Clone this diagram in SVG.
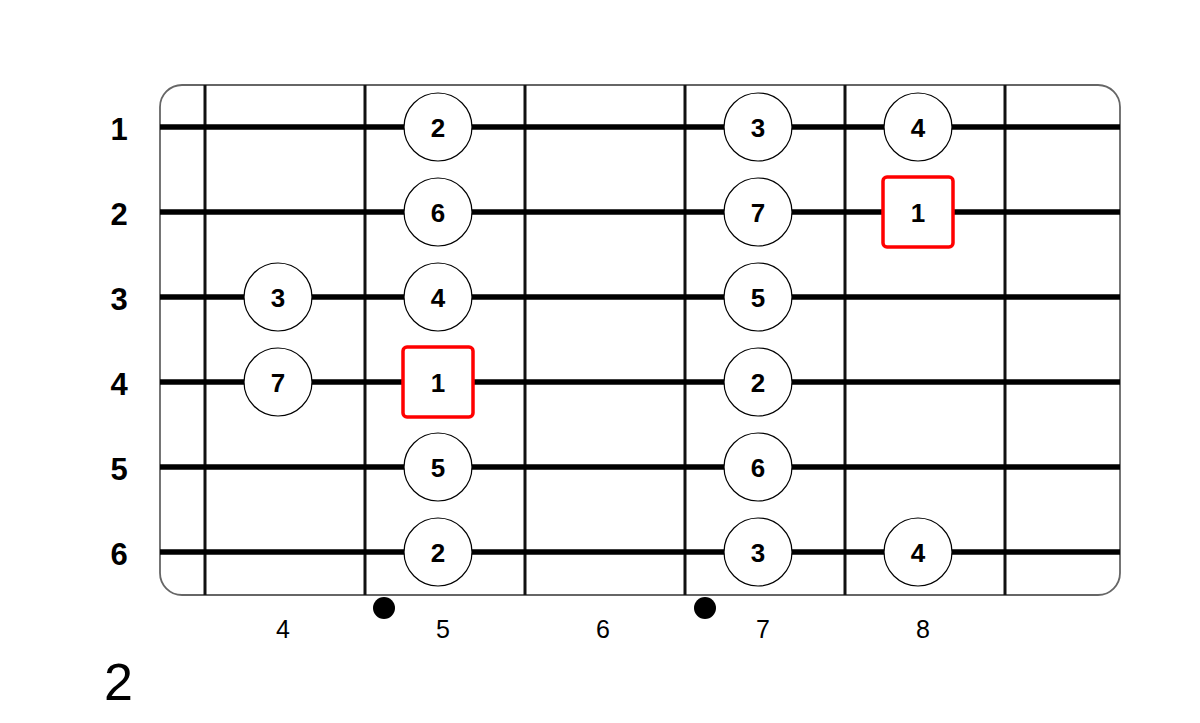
<svg xmlns="http://www.w3.org/2000/svg" width="1200" height="723" viewBox="0 0 1200 723">
<style>
.fret{stroke:#111;stroke-width:3}
.str{stroke:#000;stroke-width:5.5}
.note circle{fill:#fff;stroke:#000;stroke-width:1.2}
.root rect{fill:#fff;stroke:#f00;stroke-width:3.5}
.nt{font-family:"Liberation Sans",Arial,sans-serif;font-weight:bold;font-size:26px;text-anchor:middle}
.sl{font-family:"Liberation Sans",Arial,sans-serif;font-weight:bold;font-size:31px;text-anchor:middle}
.fl{font-family:"Liberation Sans",Arial,sans-serif;font-size:25px;text-anchor:middle}
</style>
<rect width="1200" height="723" fill="#fff"/>
<g id="board">
<rect x="160" y="85" width="960" height="510" rx="22" fill="#fff" stroke="#666" stroke-width="1.8"/>
</g>
<g id="frets">
<line class="fret" x1="205" y1="85" x2="205" y2="595"/>
<line class="fret" x1="365" y1="85" x2="365" y2="595"/>
<line class="fret" x1="525" y1="85" x2="525" y2="595"/>
<line class="fret" x1="685" y1="85" x2="685" y2="595"/>
<line class="fret" x1="845" y1="85" x2="845" y2="595"/>
<line class="fret" x1="1005" y1="85" x2="1005" y2="595"/>
</g>
<g id="strings">
<line class="str" x1="160" y1="127" x2="1120" y2="127"/>
<line class="str" x1="160" y1="212" x2="1120" y2="212"/>
<line class="str" x1="160" y1="297" x2="1120" y2="297"/>
<line class="str" x1="160" y1="382" x2="1120" y2="382"/>
<line class="str" x1="160" y1="467" x2="1120" y2="467"/>
<line class="str" x1="160" y1="552" x2="1120" y2="552"/>
</g>
<g id="string-labels">
<text class="sl" x="119" y="140">1</text>
<text class="sl" x="119" y="225">2</text>
<text class="sl" x="119" y="310">3</text>
<text class="sl" x="119" y="395">4</text>
<text class="sl" x="119" y="480">5</text>
<text class="sl" x="119" y="565">6</text>
</g>
<g id="s1-f5" class="note"><circle cx="438" cy="127" r="34"/><text class="nt" x="438" y="137">2</text></g>
<g id="s1-f7" class="note"><circle cx="758" cy="127" r="34"/><text class="nt" x="758" y="137">3</text></g>
<g id="s1-f8" class="note"><circle cx="918" cy="127" r="34"/><text class="nt" x="918" y="137">4</text></g>
<g id="s2-f5" class="note"><circle cx="438" cy="212" r="34"/><text class="nt" x="438" y="222">6</text></g>
<g id="s2-f7" class="note"><circle cx="758" cy="212" r="34"/><text class="nt" x="758" y="222">7</text></g>
<g id="s2-f8" class="root"><rect x="883" y="177" width="70" height="70" rx="4"/><text class="nt" x="918" y="222">1</text></g>
<g id="s3-f4" class="note"><circle cx="278" cy="297" r="34"/><text class="nt" x="278" y="307">3</text></g>
<g id="s3-f5" class="note"><circle cx="438" cy="297" r="34"/><text class="nt" x="438" y="307">4</text></g>
<g id="s3-f7" class="note"><circle cx="758" cy="297" r="34"/><text class="nt" x="758" y="307">5</text></g>
<g id="s4-f4" class="note"><circle cx="278" cy="382" r="34"/><text class="nt" x="278" y="392">7</text></g>
<g id="s4-f5" class="root"><rect x="403" y="347" width="70" height="70" rx="4"/><text class="nt" x="438" y="392">1</text></g>
<g id="s4-f7" class="note"><circle cx="758" cy="382" r="34"/><text class="nt" x="758" y="392">2</text></g>
<g id="s5-f5" class="note"><circle cx="438" cy="467" r="34"/><text class="nt" x="438" y="477">5</text></g>
<g id="s5-f7" class="note"><circle cx="758" cy="467" r="34"/><text class="nt" x="758" y="477">6</text></g>
<g id="s6-f5" class="note"><circle cx="438" cy="552" r="34"/><text class="nt" x="438" y="562">2</text></g>
<g id="s6-f7" class="note"><circle cx="758" cy="552" r="34"/><text class="nt" x="758" y="562">3</text></g>
<g id="s6-f8" class="note"><circle cx="918" cy="552" r="34"/><text class="nt" x="918" y="562">4</text></g>
<g id="markers">
<circle cx="384" cy="608" r="11" fill="#000"/>
<circle cx="705" cy="608" r="11" fill="#000"/>
</g>
<g id="fret-labels">
<text class="fl" x="283" y="638">4</text>
<text class="fl" x="443" y="638">5</text>
<text class="fl" x="603" y="638">6</text>
<text class="fl" x="763" y="638">7</text>
<text class="fl" x="923" y="638">8</text>
</g>
<text id="position" x="104" y="700" font-family="Liberation Sans,Arial,sans-serif" font-size="52">2</text>
</svg>
